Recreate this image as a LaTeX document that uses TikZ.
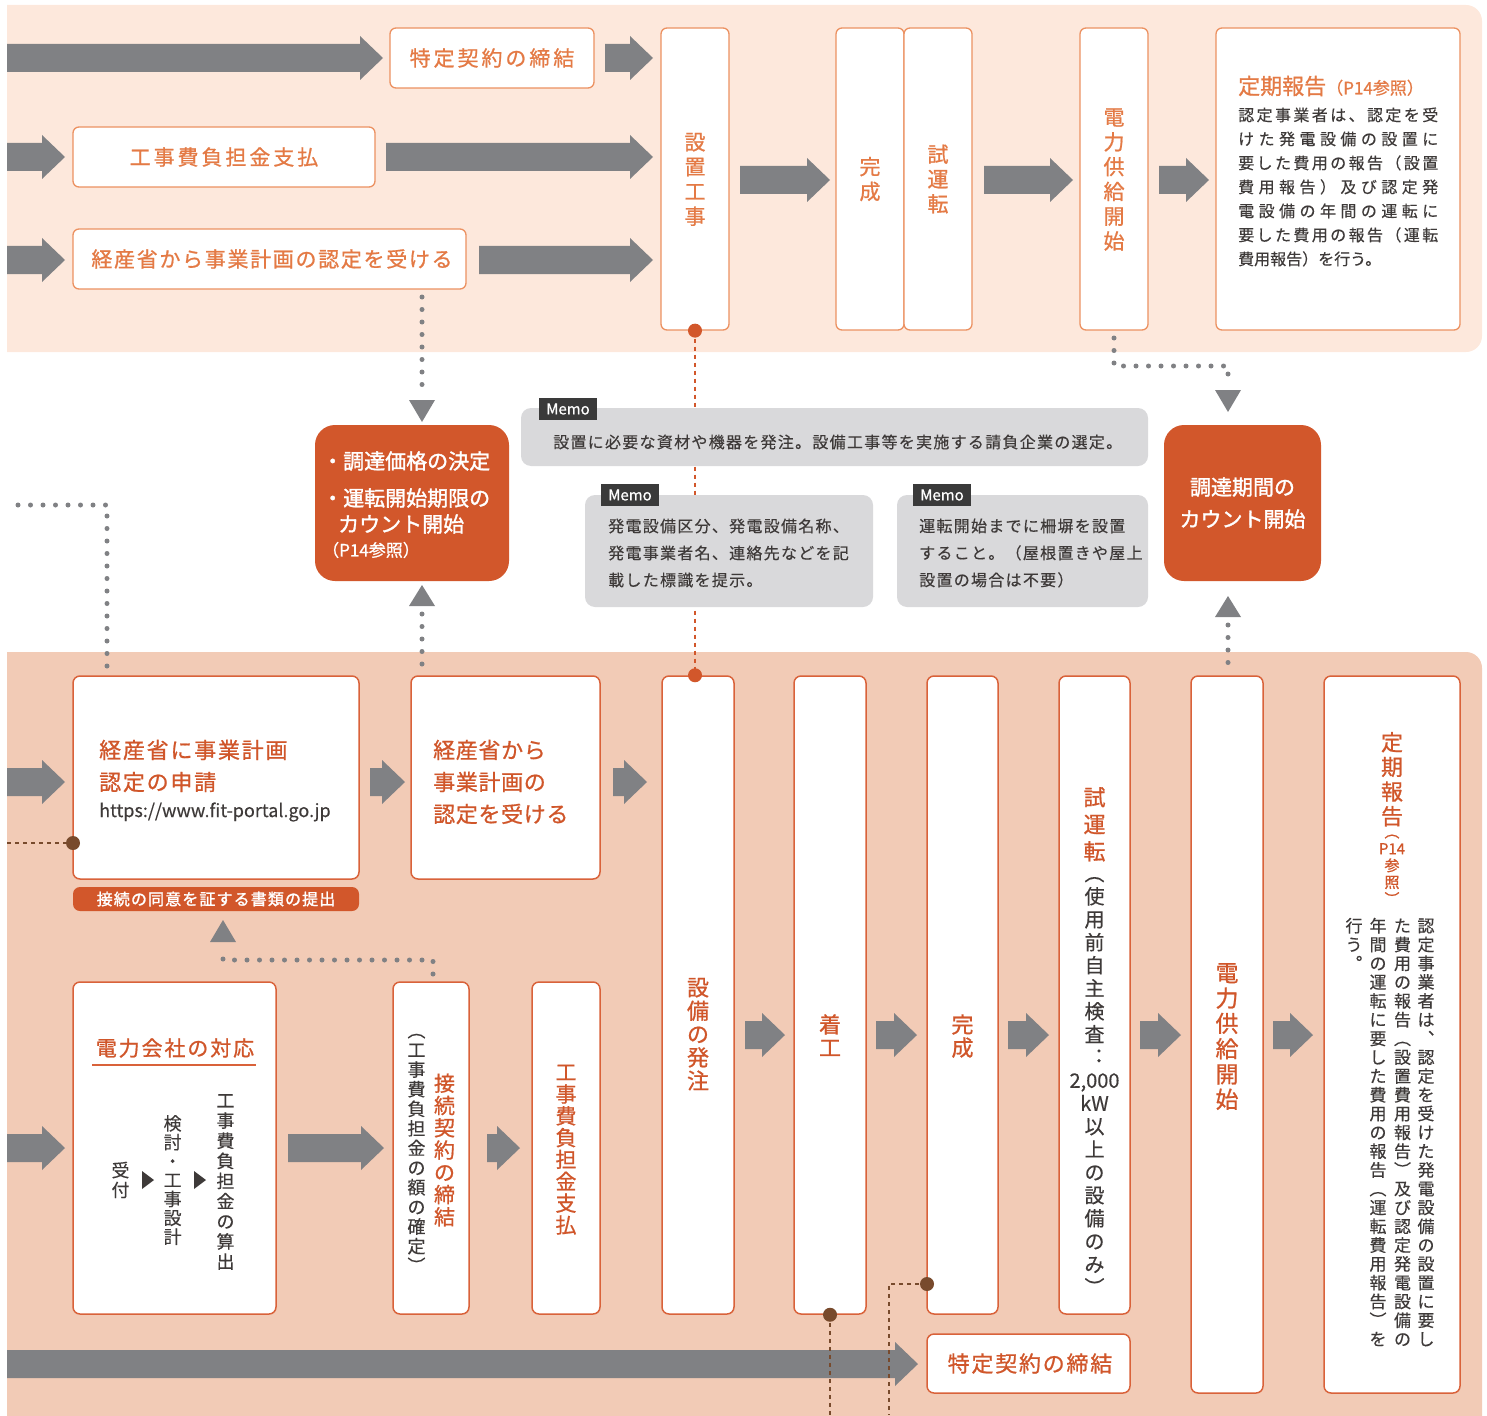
\documentclass[tikz,border=0pt]{standalone}
\usepackage{fontspec}
\setmainfont{Noto Sans CJK JP}[FakeBold=0.3]
\newfontfamily\medfont{Noto Sans CJK JP}[FakeBold=0.8]
\newfontfamily\heavyfont{Noto Sans CJK JP}[FakeBold=1.5]
\usepackage{xcolor}
\usetikzlibrary{positioning}

\definecolor{topband}{HTML}{FDE8DC}
\definecolor{botband}{HTML}{F2CBB6}
\definecolor{topline}{HTML}{EC9161}
\definecolor{topword}{HTML}{E47A45}
\definecolor{botline}{HTML}{D9623A}
\definecolor{botword}{HTML}{D0562A}
\definecolor{orangefill}{HTML}{D2572B}
\definecolor{arrowgray}{HTML}{808184}
\definecolor{memofill}{HTML}{D9D9DB}
\definecolor{tagdark}{HTML}{3A3A3A}
\definecolor{inkgray}{HTML}{3E3A39}
\definecolor{dotbrown}{HTML}{784A2C}

% vertical text, one character per cell
\newcommand\vt[2][1.1]{\vbox{\baselineskip=#1em\lineskiplimit=-100pt\vtloop#2\relax}}
\def\vtloop#1{\ifx\relax#1\else\hbox to 1em{\hss\vrule width0pt height.88em depth.12em#1\hss}\expandafter\vtloop\fi}
% justified line
\newcommand\spread[2]{\hbox to #1{\spreadfirst#2\relax}}
\def\spreadfirst#1{#1\spreadloop}
\def\spreadloop#1{\ifx\relax#1\else\hfill#1\expandafter\spreadloop\fi}
% block arrow: x from, x to, y
\newcommand\fatarrow[3]{\fill[arrowgray] (#1,#3-14) -- (#2-23,#3-14) -- (#2-23,#3-22) -- (#2,#3) -- (#2-23,#3+22) -- (#2-23,#3+14) -- (#1,#3+14) -- cycle;}

\begin{document}
\begin{tikzpicture}[x=1pt,y=-1pt,
  tbox/.style={draw=topline, line width=1.3pt, fill=white, rounded corners=6pt, inner sep=0pt, text=topword, font=\medfont\fontsize{21}{21}\selectfont},
  bbox/.style={draw=botline, line width=1.5pt, fill=white, rounded corners=7pt, inner sep=0pt},
  obox/.style={fill=orangefill, rounded corners=20pt, inner sep=0pt, text=white},
  memo/.style={fill=memofill, rounded corners=10pt, inner sep=0pt},
  memotag/.style={fill=tagdark, text=white, inner sep=0pt, minimum width=58pt, minimum height=22pt, font=\medfont\fontsize{15}{15}\selectfont},
  memotext/.style={text=inkgray, inner sep=0pt, anchor=west, align=left, font=\fontsize{16}{27}\selectfont\addfontfeature{LetterSpace=8}},
  olabel/.style={inner sep=0pt, text=botword, font=\medfont\fontsize{22}{22}\selectfont},
  glabel/.style={inner sep=0pt, text=inkgray, font=\fontsize{18}{18}\selectfont},
  wlabel/.style={inner sep=0pt, anchor=west, text=white, font=\heavyfont\fontsize{21}{21}\selectfont},
  dots/.style={draw=arrowgray, line width=5pt, line cap=round, dash pattern=on 0pt off 12.5pt},
  odash/.style={draw=orangefill, line width=1.5pt, dash pattern=on 4pt off 4pt},
  bdash/.style={draw=dotbrown, line width=1.8pt, dash pattern=on 4pt off 4pt},
  headtri/.style={fill=arrowgray},
]
\useasboundingbox (0,0) rectangle (1487,1415);

% Bands
\begin{scope}
\clip (7,0) rectangle (1487,1415);
\fill[topband, rounded corners=16pt] (-30,5) rectangle (1482,352);
\fill[botband, rounded corners=16pt] (-30,652) rectangle (1482,1460);
\end{scope}

% Upper band
\node[tbox, minimum width=204pt, minimum height=60pt] (tokutei) at (492,58) {\addfontfeature{LetterSpace=14}特定契約の締結};
\node[tbox, minimum width=302pt, minimum height=60pt] (futan) at (224,157) {\addfontfeature{LetterSpace=14}工事費負担金支払};
\node[tbox, minimum width=393pt, minimum height=60pt] (nintei) at (269.5,259) {\hspace{5pt}\addfontfeature{LetterSpace=8}経産省から事業計画の認定を受ける};
\node[tbox, minimum width=68pt, minimum height=302pt] (setchi) at (695,179) {\vt[1.18]{設置工事}};
\node[tbox, minimum width=68pt, minimum height=302pt] (kansei) at (870,179) {\vt[1.18]{完成}};
\node[tbox, minimum width=68pt, minimum height=302pt] (shiunten) at (938,179) {\vt[1.18]{試運転}};
\node[tbox, minimum width=68pt, minimum height=302pt] (kyokyu) at (1114,179) {\vt[1.18]{電力供給開始}};
\node[tbox, minimum width=244pt, minimum height=302pt] (teiki) at (1338,179) {};
\node[inner sep=0pt, anchor=west, text=topword, font=\medfont\fontsize{22}{22}\selectfont] (teikihead) at (1238,86) {定期報告{\fontsize{17}{17}\selectfont（P14参照）}};
\node[inner sep=0pt, anchor=west, align=left, text=inkgray, font=\fontsize{16}{24}\selectfont] (teikibody) at (1238,187)
  {\spread{200pt}{認定事業者は、認定を受}\\\spread{200pt}{けた発電設備の設置に}\\\spread{200pt}{要した費用の報告（設置}\\
   \spread{200pt}{費用報告）及び認定発}\\\spread{200pt}{電設備の年間の運転に}\\\spread{200pt}{要した費用の報告（運転}\\費用報告）を行う。};

\fatarrow{7}{383}{58}
\fatarrow{605}{653}{58}
\fatarrow{7}{65}{157}
\fatarrow{386}{653}{157}
\fatarrow{7}{65}{260}
\fatarrow{479}{653}{260}
\fatarrow{740}{830}{180}
\fatarrow{984}{1073}{180}
\fatarrow{1159}{1209}{180}

% Lower band
\node[bbox, minimum width=286pt, minimum height=203pt] (shinsei) at (216,777.5) {};
\node[olabel, anchor=west, align=left, font=\medfont\fontsize{22}{32}\selectfont\addfontfeature{LetterSpace=8}] (shinseitxt) at (99,766) {経産省に事業計画\\認定の申請};
\node[inner sep=0pt, anchor=west, text=inkgray, font=\fontsize{18}{18}\selectfont] (url) at (99,812) {https://www.fit-portal.go.jp};
\node[fill=orangefill, rounded corners=7pt, minimum width=286pt, minimum height=24pt, inner sep=0pt, text=white, font=\heavyfont\fontsize{16}{16}\selectfont\addfontfeature{LetterSpace=7}] (teishutsu) at (216,899) {接続の同意を証する書類の提出};
\node[bbox, minimum width=189pt, minimum height=203pt] (uketa) at (505.5,777.5) {};
\node[olabel, anchor=west, align=left, font=\medfont\fontsize{22}{32}\selectfont\addfontfeature{LetterSpace=3}] (uketatxt) at (433,782) {経産省から\\事業計画の\\認定を受ける};

\node[bbox, minimum width=72pt, minimum height=638pt] (hatchu) at (698,995) {};
\node[olabel] (hatchutxt) at (698,1034) {\vt[1.06]{設備の発注}};
\node[bbox, minimum width=72pt, minimum height=638pt] (chakko) at (830,995) {};
\node[olabel] (chakkotxt) at (830,1036) {\vt[1.05]{着工}};
\node[bbox, minimum width=71pt, minimum height=638pt] (bkansei) at (962.5,995) {};
\node[olabel] (bkanseitxt) at (962.5,1036) {\vt[1.05]{完成}};
\node[bbox, minimum width=71pt, minimum height=638pt] (bshiunten) at (1094.5,995) {};
\node[olabel, anchor=north] (shiuntxt) at (1094.5,786) {\vt[1.23]{試運転}};
\node[glabel, anchor=north, font=\fontsize{20}{20}\selectfont] (shiunnote) at (1094.5,863) {\vt[1.15]{︵使用前自主検査︓{2,000}{kW}以上の設備のみ︶}};
\node[bbox, minimum width=72pt, minimum height=717pt] (bkyokyu) at (1227,1034.5) {};
\node[olabel, font=\medfont\fontsize{23}{23}\selectfont] (bkyokyutxt) at (1227,1036) {\vt[1.1]{電力供給開始}};
\node[bbox, minimum width=136pt, minimum height=717pt] (bteiki) at (1392,1034.5) {};
\node[olabel, anchor=north] (bteikihead) at (1392,731) {\vt[1.12]{定期報告}};
\node[olabel, anchor=north, font=\medfont\fontsize{15}{15}\selectfont] (bteikiref) at (1392,824) {\vt[1.12]{︵{P14}参照︶}};
\node[glabel, anchor=north, font=\fontsize{17}{17}\selectfont] (bteikiA) at (1426,917) {\vt[1.105]{認定事業者は︑認定を受けた発電設備の設置に要し}};
\node[glabel, anchor=north, font=\fontsize{17}{17}\selectfont] (bteikiB) at (1402.5,917) {\vt[1.105]{た費用の報告︵設置費用報告︶及び認定発電設備の}};
\node[glabel, anchor=north, font=\fontsize{17}{17}\selectfont] (bteikiC) at (1378,917) {\vt[1.105]{年間の運転に要した費用の報告︵運転費用報告︶を}};
\node[glabel, anchor=north, font=\fontsize{17}{17}\selectfont] (bteikiD) at (1354,917) {\vt[1.105]{行う︒}};

\node[bbox, minimum width=203pt, minimum height=332pt] (denryoku) at (174.5,1148) {};
\node[olabel, font=\medfont\fontsize{21}{21}\selectfont\addfontfeature{LetterSpace=9}] (denryokuhead) at (175,1048) {電力会社の対応};
\draw[botline, line width=1.5pt] (92,1065) -- (256,1065);
\node[glabel] (uketsuke) at (120.5,1180) {\vt[1.1]{受付}};
\node[glabel] (kento) at (172.6,1180) {\vt[1.05]{検討・工事設計}};
\node[glabel] (sanshutsu) at (225.5,1181) {\vt[1.12]{工事費負担金の算出}};
\fill[inkgray] (142,1171) -- (154,1180) -- (142,1189) -- cycle;
\fill[inkgray] (194,1171) -- (206,1180) -- (194,1189) -- cycle;
\node[bbox, minimum width=76pt, minimum height=332pt] (setsuzoku) at (431,1148) {};
\node[olabel, font=\medfont\fontsize{21}{21}\selectfont] (setsuzokutxt) at (444.5,1150) {\vt[1.06]{接続契約の締結}};
\node[glabel] (setsuzokunote) at (416.5,1148) {\vt[1.09]{︵工事費負担金の額の確定︶}};
\node[bbox, minimum width=68pt, minimum height=332pt] (shiharai) at (566,1148) {};
\node[olabel, font=\medfont\fontsize{21}{21}\selectfont] (shiharaitxt) at (566,1148.5) {\vt[1.04]{工事費負担金支払}};
\node[bbox, minimum width=203pt, minimum height=59pt, text=botword, font=\medfont\fontsize{22}{22}\selectfont\addfontfeature{LetterSpace=8}] (btokutei) at (1028.5,1363.5) {\hspace{3pt}特定契約の締結};

\fatarrow{7}{65}{782}
\fatarrow{370}{405}{782}
\fatarrow{613}{647}{782}
\fatarrow{745}{785}{1035}
\fatarrow{876}{917}{1035}
\fatarrow{1008}{1049}{1035}
\fatarrow{1140}{1181}{1035}
\fatarrow{1273}{1313}{1035}
\fatarrow{7}{65}{1148}
\fatarrow{288}{384}{1148}
\fatarrow{487}{520}{1148}
\fatarrow{7}{918}{1364}

% Dotted links
\draw[dots] (422,297) -- (422,392);
\fill[headtri] (409,400) -- (435,400) -- (422,422) -- cycle;
\fill[headtri] (409,606) -- (435,606) -- (422,585) -- cycle;
\draw[dots] (422,614) -- (422,671);
\draw[dots] (1114,338) -- (1114,366) -- (1228,366) -- (1228,379);
\fill[headtri] (1215,390) -- (1241,390) -- (1228,412) -- cycle;
\fill[headtri] (1215,617) -- (1241,617) -- (1228,596) -- cycle;
\draw[dots] (1228,625) -- (1228,671);
\draw[dots] (18,505) -- (107,505) -- (107,668);
\draw[dots] (433,974) -- (433,960) -- (223,960) -- (223,948);
\fill[headtri] (210,942) -- (236,942) -- (223,920) -- cycle;

% Dashed links
\draw[odash] (setchi.south) -- (setchi.south |- hatchu.north);
\coordinate (shinseidot) at (73,843);
\coordinate (kanseidot) at (927,1284);
\draw[bdash] (7,843) -- (shinseidot);
\draw[bdash] (chakko.south) -- ++(0,101);
\draw[bdash] (kanseidot) -- (889,1284) -- (889,1415);

% Memos
\node[memo, minimum width=627pt, minimum height=58pt] (memoA) at (834.5,437) {};
\node[memotag] (tagA) at (568,409) {Memo};
\node[memotext] (noteA) at (553,442) {設置に必要な資材や機器を発注。設備工事等を実施する請負企業の選定。};
\node[memo, minimum width=288pt, minimum height=112pt] (memoB) at (729,551) {};
\node[memotag] (tagB) at (630,495) {Memo};
\node[memotext] (noteB) at (608,553) {発電設備区分、発電設備名称、\\発電事業者名、連絡先などを記\\載した標識を提示。};
\node[memo, minimum width=251pt, minimum height=112pt] (memoC) at (1022.5,551) {};
\node[memotag] (tagC) at (942,495) {Memo};
\node[memotext] (noteC) at (919,553) {運転開始までに柵塀を設置\\すること。（屋根置きや屋上\\設置の場合は不要）};

% Orange boxes
\node[obox, minimum width=194pt, minimum height=156pt] (kakaku) at (412,503) {};
\node[wlabel] (kakakuA) at (322,461) {・調達価格の決定};
\node[wlabel] (kakakuB) at (322,498) {・運転開始期限の};
\node[wlabel] (kakakuC) at (338,524) {カウント開始};
\node[wlabel, font=\medfont\fontsize{17}{17}\selectfont] (kakakuD) at (322,550) {（P14参照）};
\node[obox, minimum width=157pt, minimum height=156pt, align=center, font=\heavyfont\fontsize{21}{32}\selectfont] (kikan) at (1242.5,503) {調達期間の\\カウント開始};

% Dots
\fill[orangefill] (setchi.south) circle[radius=7pt];
\fill[orangefill] (setchi.south |- hatchu.north) circle[radius=7pt];
\fill[dotbrown] (shinseidot) circle[radius=7pt];
\fill[dotbrown] (chakko.south) circle[radius=7pt];
\fill[dotbrown] (kanseidot) circle[radius=7pt];
\end{tikzpicture}
\end{document}
